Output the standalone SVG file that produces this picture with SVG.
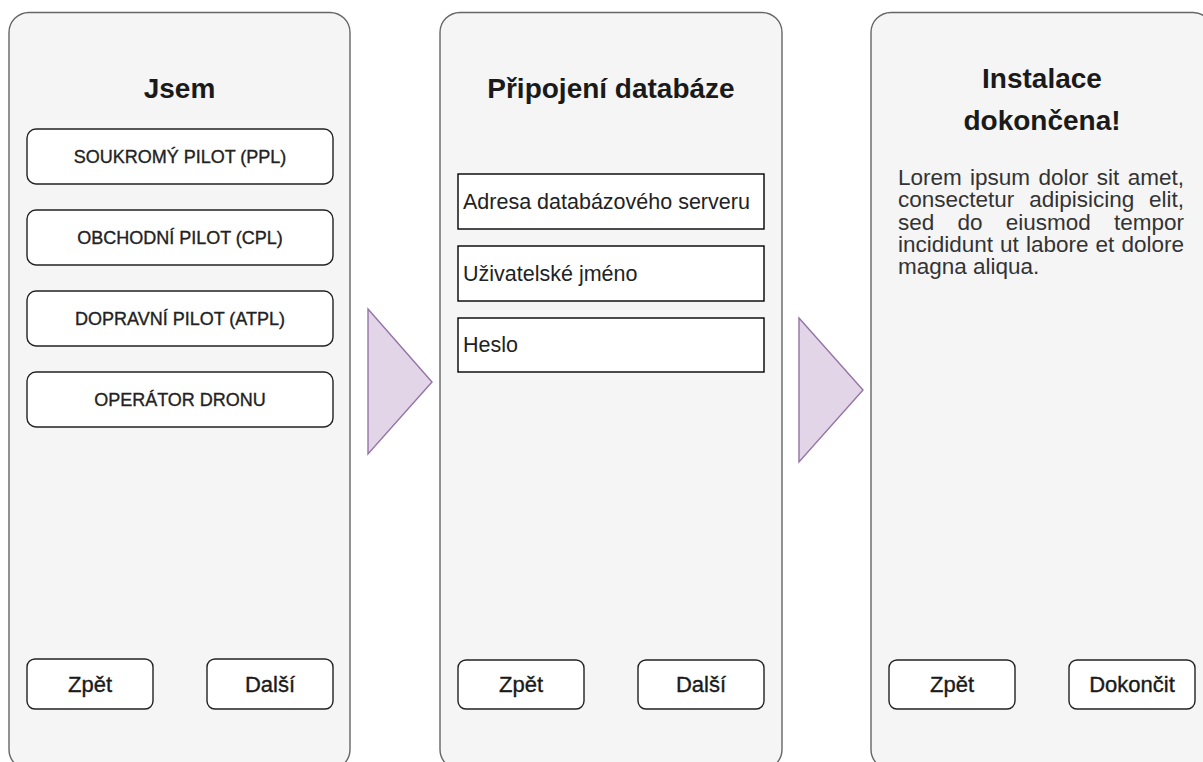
<svg xmlns="http://www.w3.org/2000/svg" width="1203" height="762" viewBox="0 0 1203 762">
  <style>
    .panel { fill: #f5f5f5; stroke: #666666; stroke-width: 1.4; }
    .btn { fill: #ffffff; stroke: #222222; stroke-width: 1.4; }
    .field { fill: #ffffff; stroke: #000000; stroke-width: 1.4; }
    .flow { fill: #e1d5e7; stroke: #9673a6; stroke-width: 1.4; }
    .title { font-family: "Liberation Sans", Arial, sans-serif; font-size: 28px; font-weight: bold; fill: #1a1a1a; text-anchor: middle; }
    .opt { font-family: "Liberation Sans", Arial, sans-serif; font-size: 18px; fill: #222222; stroke: #222222; stroke-width: 0.35; text-anchor: middle; }
    .nav { font-family: "Liberation Sans", Arial, sans-serif; font-size: 22px; fill: #1a1a1a; stroke: #1a1a1a; stroke-width: 0.35; text-anchor: middle; }
    .label { font-family: "Liberation Sans", Arial, sans-serif; font-size: 21.5px; fill: #222222; }
    .body { font-family: "Liberation Sans", Arial, sans-serif; font-size: 22.5px; fill: #333333; }
  </style>

  <!-- Step 1: pilot type -->
  <g id="panel-role">
    <rect class="panel" x="9" y="12.5" width="341" height="757" rx="20" ry="20"/>
    <text class="title" x="179.5" y="98">Jsem</text>
  </g>
  <g id="opt-ppl">
    <rect class="btn" x="27" y="129" width="306" height="55" rx="9" ry="9"/>
    <text class="opt" x="180" y="163">SOUKROMÝ PILOT (PPL)</text>
  </g>
  <g id="opt-cpl">
    <rect class="btn" x="27" y="210" width="306" height="55" rx="9" ry="9"/>
    <text class="opt" x="180" y="244">OBCHODNÍ PILOT (CPL)</text>
  </g>
  <g id="opt-atpl">
    <rect class="btn" x="27" y="291" width="306" height="55" rx="9" ry="9"/>
    <text class="opt" x="180" y="325">DOPRAVNÍ PILOT (ATPL)</text>
  </g>
  <g id="opt-drone">
    <rect class="btn" x="27" y="372" width="306" height="55" rx="9" ry="9"/>
    <text class="opt" x="180" y="406">OPERÁTOR DRONU</text>
  </g>
  <g id="role-back">
    <rect class="btn" x="27" y="659" width="126" height="50" rx="8" ry="8"/>
    <text class="nav" x="90" y="692">Zpět</text>
  </g>
  <g id="role-next">
    <rect class="btn" x="207" y="659" width="126" height="50" rx="8" ry="8"/>
    <text class="nav" x="270" y="692">Další</text>
  </g>

  <!-- Step 2: database connection -->
  <g id="panel-db">
    <rect class="panel" x="440" y="12.5" width="342" height="757" rx="20" ry="20"/>
    <text class="title" x="611" y="98">Připojení databáze</text>
  </g>
  <g id="field-host">
    <rect class="field" x="458" y="174" width="306" height="55"/>
    <text class="label" x="463" y="209">Adresa databázového serveru</text>
  </g>
  <g id="field-user">
    <rect class="field" x="458" y="246" width="306" height="55"/>
    <text class="label" x="463" y="281">Uživatelské jméno</text>
  </g>
  <g id="field-pass">
    <rect class="field" x="458" y="318" width="306" height="54"/>
    <text class="label" x="463" y="352">Heslo</text>
  </g>
  <g id="db-back">
    <rect class="btn" x="458" y="660" width="126" height="49" rx="8" ry="8"/>
    <text class="nav" x="521" y="692">Zpět</text>
  </g>
  <g id="db-next">
    <rect class="btn" x="638" y="660" width="126" height="49" rx="8" ry="8"/>
    <text class="nav" x="701" y="692">Další</text>
  </g>

  <!-- Step 3: finished -->
  <g id="panel-done">
    <rect class="panel" x="871" y="12.5" width="342" height="757" rx="20" ry="20"/>
    <text class="title" x="1042" y="88">Instalace</text>
    <text class="title" x="1042" y="130">dokončena!</text>
    <!-- justified paragraph, 898..1184: words placed with even gaps per line -->
    <text class="body">
      <tspan x="898" y="185">Lorem</tspan><tspan x="970.1">ipsum</tspan><tspan x="1038.5">dolor</tspan><tspan x="1096.8">sit</tspan><tspan x="1127.7">amet,</tspan>
      <tspan x="898" y="207">consectetur</tspan><tspan x="1029.2">adipisicing</tspan><tspan x="1149">elit,</tspan>
      <tspan x="898" y="229.5">sed</tspan><tspan x="957.5">do</tspan><tspan x="1005.7">eiusmod</tspan><tspan x="1113.9">tempor</tspan>
      <tspan x="898" y="252">incididunt</tspan><tspan x="1000.1">ut</tspan><tspan x="1026">labore</tspan><tspan x="1095.6">et</tspan><tspan x="1121.5">dolore</tspan>
      <tspan x="898" y="274">magna aliqua.</tspan>
    </text>
  </g>
  <g id="done-back">
    <rect class="btn" x="889" y="660" width="126" height="49" rx="8" ry="8"/>
    <text class="nav" x="952" y="692">Zpět</text>
  </g>
  <g id="done-finish">
    <rect class="btn" x="1069" y="660" width="126" height="49" rx="8" ry="8"/>
    <text class="nav" x="1132" y="692">Dokončit</text>
  </g>

  <!-- flow arrows between steps -->
  <g id="connectors">
    <polygon class="flow" points="368,309 432,382 368,454"/>
    <polygon class="flow" points="799,318 863,390 799,462"/>
  </g>
</svg>
